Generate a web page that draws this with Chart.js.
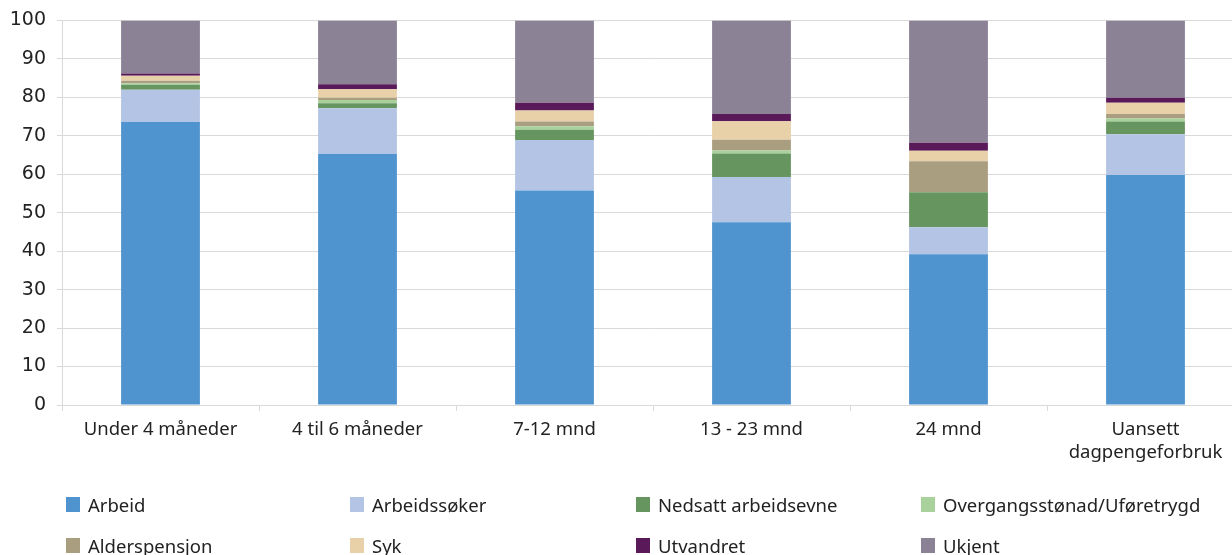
<!DOCTYPE html>
<html>
<head>
<meta charset="utf-8">
<script src="https://cdn.jsdelivr.net/npm/chart.js@4/dist/chart.umd.min.js"></script>
<style>
  html, body { margin: 0; padding: 0; background: #fff; overflow: hidden; }
  #wrap { position: relative; width: 1232px; height: 555px; overflow: hidden; }
  #c { position: absolute; left: 0; top: 0; }
  #legend { position: absolute; left: 0; top: 0; width: 1232px; height: 555px; pointer-events: none;
            font-family: "Noto Sans", sans-serif; font-size: 18.5px; color: #222; }
  .li { position: absolute; display: flex; align-items: center; white-space: nowrap; }
  .sw { width: 14px; height: 15px; margin-right: 8px; }
</style>
</head>
<body>
<div id="wrap">
  <canvas id="c" width="1244" height="555"></canvas>
  <div id="legend"></div>
</div>
<script>
const categories = ['Under 4 måneder', '4 til 6 måneder', '7-12 mnd', '13 - 23 mnd', '24 mnd', ['Uansett', 'dagpengeforbruk']];
const seriesNames = ['Arbeid', 'Arbeidssøker', 'Nedsatt arbeidsevne', 'Overgangsstønad/Uføretrygd', 'Alderspensjon', 'Syk', 'Utvandret', 'Ukjent'];
const arbeid        = [73.6, 65.3, 55.8, 47.5, 39.2, 59.8];
const arbeidssoker  = [8.4, 11.9, 13.1, 11.8, 7.0, 10.6];
const nedsatt       = [1.3, 1.3, 2.7, 6.1, 9.1, 3.3];
const overgang      = [0.4, 0.8, 0.9, 0.8, 0.1, 0.8];
const alderspensjon = [0.6, 0.6, 1.2, 2.8, 8.0, 1.2];
const syk           = [1.3, 2.2, 2.9, 4.8, 2.7, 2.9];
const utvandret     = [0.6, 1.3, 2.0, 1.9, 2.1, 1.3];
const ukjent        = [13.8, 16.6, 21.4, 24.3, 31.8, 20.1];
const yTicks = [0, 10, 20, 30, 40, 50, 60, 70, 80, 90, 100];

const seriesValues = [arbeid, arbeidssoker, nedsatt, overgang, alderspensjon, syk, utvandret, ukjent];
const colors = ['#4f93cf', '#b3c4e4', '#66955f', '#a8d19c', '#aa9e80', '#e8d1a8', '#5a1a5a', '#8b8296'];

const FONT = '"Noto Sans", sans-serif';

const datasets = seriesNames.map((n, i) => ({
  label: n,
  data: seriesValues[i],
  backgroundColor: colors[i],
  borderWidth: 0,
  barPercentage: 0.4,
  categoryPercentage: 1.0
}));

new Chart(document.getElementById('c'), {
  type: 'bar',
  data: { labels: categories, datasets },
  options: {
    responsive: false,
    animation: false,
    layout: { padding: { top: 19, right: 0, bottom: 90, left: 0 } },
    plugins: { legend: { display: false }, tooltip: { enabled: false } },
    scales: {
      x: {
        stacked: true,
        grid: { display: true, drawOnChartArea: false, drawTicks: true, tickLength: 6, color: '#d9d9d9', offset: true },
        border: { display: true, color: '#d9d9d9', width: 1 },
        ticks: { color: '#222', font: { family: FONT, size: 18.5, lineHeight: 1.25 }, padding: 7, maxRotation: 0, autoSkip: false },
        afterFit: s => { s.height = 60; }
      },
      y: {
        stacked: true,
        min: 0, max: 100,
        afterBuildTicks: s => { s.ticks = yTicks.map(v => ({ value: v })); },
        grid: { color: '#d9d9d9', lineWidth: 1, drawTicks: true, tickLength: 5 },
        border: { display: true, color: '#d9d9d9', width: 1 },
        ticks: { color: '#222', font: { family: '"DejaVu Sans", sans-serif', size: 19, lineHeight: 1 }, padding: 11 },
        afterFit: s => { s.width = 62; }
      }
    }
  }
});

// HTML legend, 4 columns x 2 rows
const legend = document.getElementById('legend');
const colX = [66, 350, 636, 921];
const rowY = [504, 545];
seriesNames.forEach((n, i) => {
  const d = document.createElement('div');
  d.className = 'li';
  d.style.left = colX[i % 4] + 'px';
  d.style.top = (rowY[Math.floor(i / 4)] - 12) + 'px';
  d.style.height = '24px';
  const sw = document.createElement('span');
  sw.className = 'sw';
  sw.style.background = colors[i];
  const t = document.createElement('span');
  t.textContent = n;
  d.appendChild(sw); d.appendChild(t);
  legend.appendChild(d);
});
</script>
</body>
</html>
